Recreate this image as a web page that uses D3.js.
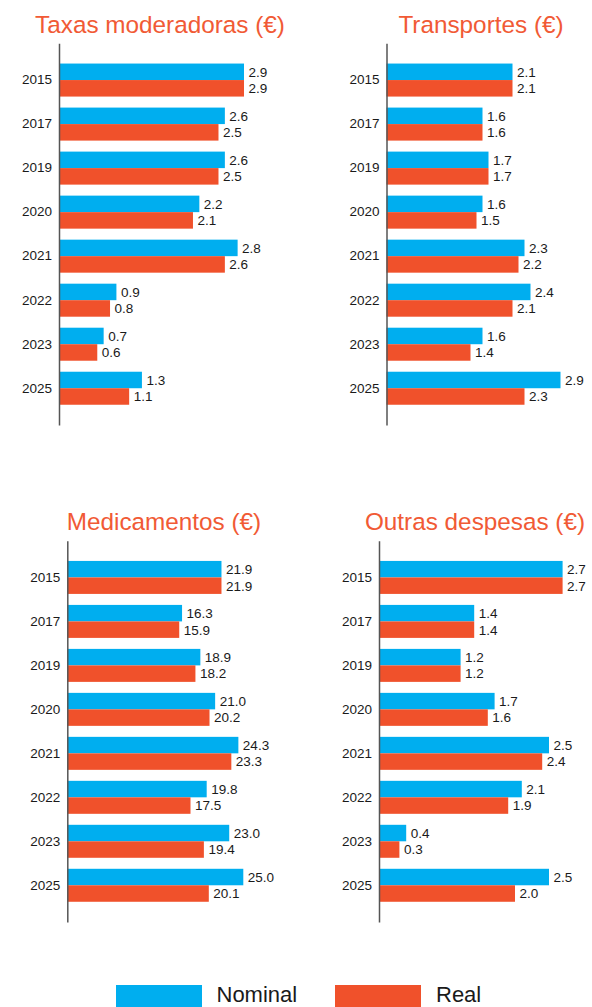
<!DOCTYPE html>
<html>
<head>
<meta charset="utf-8">
<script src="https://cdn.jsdelivr.net/npm/d3@7"></script>
<style>
  html, body { margin: 0; padding: 0; background: #fff; }
  svg { display: block; font-family: "Liberation Sans", Arial, Helvetica, sans-serif; }
</style>
</head>
<body>
<svg id="chart" width="592" height="1007"></svg>
<script>
const years = ["2015", "2017", "2019", "2020", "2021", "2022", "2023", "2025"];
const seriesNames = ["Nominal", "Real"];

const taxasNominal = [2.9, 2.6, 2.6, 2.2, 2.8, 0.9, 0.7, 1.3];
const taxasReal    = [2.9, 2.5, 2.5, 2.1, 2.6, 0.8, 0.6, 1.1];

const transpNominal = [2.1, 1.6, 1.7, 1.6, 2.3, 2.4, 1.6, 2.9];
const transpReal    = [2.1, 1.6, 1.7, 1.5, 2.2, 2.1, 1.4, 2.3];

const medNominal = [21.9, 16.3, 18.9, 21.0, 24.3, 19.8, 23.0, 25.0];
const medReal    = [21.9, 15.9, 18.2, 20.2, 23.3, 17.5, 19.4, 20.1];

const outrasNominal = [2.7, 1.4, 1.2, 1.7, 2.5, 2.1, 0.4, 2.5];
const outrasReal    = [2.7, 1.4, 1.2, 1.6, 2.4, 1.9, 0.3, 2.0];

const titles = ["Taxas moderadoras (€)", "Transportes (€)", "Medicamentos (€)", "Outras despesas (€)"];

const colors = { Nominal: "#00AEEF", Real: "#F0512B" };
const titleColor = "#F15A35";
const textColor = "#1a1a1a";

// layout (positions only)
const panels = [
  { title: titles[0], nominal: taxasNominal, real: taxasReal, x0: 59, width: 185, y0: 43.3, y1: 425, tx: 160, ty: 32.5 },
  { title: titles[1], nominal: transpNominal, real: transpReal, x0: 386.5, width: 174, y0: 43.3, y1: 425, tx: 481, ty: 32.5 },
  { title: titles[2], nominal: medNominal, real: medReal, x0: 67.3, width: 176, y0: 540.7, y1: 922, tx: 164, ty: 530 },
  { title: titles[3], nominal: outrasNominal, real: outrasReal, x0: 379, width: 183.6, y0: 540.7, y1: 922, tx: 475, ty: 530 }
];

const svg = d3.select("#chart");

panels.forEach(p => {
  const g = svg.append("g");
  const rows = years.map((y, i) => ({ year: y, Nominal: p.nominal[i], Real: p.real[i] }));
  const maxV = d3.max(rows, d => Math.max(d.Nominal, d.Real));

  const y = d3.scaleBand().domain(years).range([p.y0, p.y1]).paddingInner(0.25).paddingOuter(0.46);
  const ySub = d3.scaleBand().domain(seriesNames).range([0, y.bandwidth()]);
  const x = d3.scaleLinear().domain([0, maxV]).range([p.x0, p.x0 + p.width]);

  // title
  g.append("text")
    .attr("x", p.tx).attr("y", p.ty)
    .attr("text-anchor", "middle")
    .attr("font-size", "24.3px")
    .attr("fill", titleColor)
    .text(p.title);

  const grp = g.selectAll("g.row").data(rows).join("g")
    .attr("class", "row")
    .attr("transform", d => `translate(0,${y(d.year)})`);

  grp.selectAll("rect").data(d => seriesNames.map(s => ({ s, v: d[s] }))).join("rect")
    .attr("x", x(0))
    .attr("y", d => ySub(d.s))
    .attr("width", d => x(d.v) - x(0))
    .attr("height", ySub.bandwidth())
    .attr("fill", d => colors[d.s]);

  grp.selectAll("text.val").data(d => seriesNames.map(s => ({ s, v: d[s] }))).join("text")
    .attr("class", "val")
    .attr("x", d => x(d.v) + 4.5)
    .attr("y", d => ySub(d.s) + ySub.bandwidth() / 2)
    .attr("dy", "0.36em")
    .attr("font-size", "13.5px")
    .attr("fill", textColor)
    .text(d => d3.format(".1f")(d.v));

  const axis = g.append("g")
    .attr("transform", `translate(${p.x0},0)`)
    .call(d3.axisLeft(y).tickSize(0).tickPadding(7));
  axis.select(".domain").attr("stroke", "#555").attr("stroke-width", 1.5);
  axis.selectAll(".tick text")
    .attr("font-size", "13.5px")
    .attr("fill", textColor)
    .attr("font-family", "Liberation Sans, Arial, Helvetica, sans-serif");
});

// legend
const legend = svg.append("g");
const legendItems = [
  { name: seriesNames[0], rx: 116, tx: 216.5 },
  { name: seriesNames[1], rx: 335, tx: 436 }
];
legendItems.forEach(it => {
  legend.append("rect")
    .attr("x", it.rx).attr("y", 985)
    .attr("width", 86).attr("height", 22)
    .attr("fill", colors[it.name]);
  legend.append("text")
    .attr("x", it.tx).attr("y", 1002)
    .attr("font-size", "22px")
    .attr("fill", textColor)
    .text(it.name);
});
</script>
</body>
</html>
